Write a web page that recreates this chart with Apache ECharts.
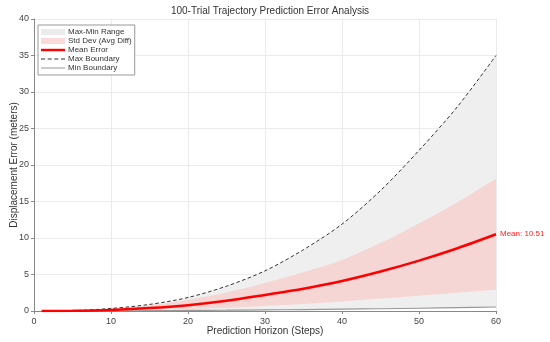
<!DOCTYPE html>
<html>
<head>
<meta charset="utf-8">
<script src="https://cdn.jsdelivr.net/npm/echarts@6/dist/echarts.min.js"></script>
<style>html,body{margin:0;padding:0;background:#fff;}#c{width:550px;height:342px;}</style>
</head>
<body>
<div id="c"></div>
<script>
var steps     = [1, 5, 10, 15, 20, 25, 30, 35, 40, 45, 50, 55, 60];
var meanErr   = [0.0, 0.03, 0.15, 0.4, 0.8, 1.4, 2.2, 3.05, 4.1, 5.4, 6.9, 8.6, 10.51];
var stdUpper  = [0.0, 0.06, 0.3, 0.8, 1.55, 2.55, 3.85, 5.3, 7.0, 9.3, 12.0, 14.9, 18.1];
var stdLower  = [0.0, 0.01, 0.05, 0.12, 0.3, 0.45, 0.7, 0.95, 1.3, 1.7, 2.1, 2.5, 2.9];
var maxBound  = [0.0, 0.05, 0.35, 0.9, 1.85, 3.4, 5.5, 8.4, 11.9, 16.5, 22.0, 28.0, 35.0];
var minBound  = [0.0, 0.0, 0.02, 0.05, 0.08, 0.11, 0.15, 0.2, 0.25, 0.31, 0.38, 0.46, 0.55];
var xTicks = [0, 10, 20, 30, 40, 50, 60];
var yTicks = [0, 5, 10, 15, 20, 25, 30, 35, 40];

function pairs(arr) { return steps.map(function (s, i) { return [s, arr[i]]; }); }

var chart = echarts.init(document.getElementById('c'), null, {renderer: 'canvas'});
var font = 'Liberation Sans, Arial, sans-serif';
var smoothV = 0.3;
var gray = '#efefef', pink = '#f6d5d5';
var lineIcon = 'path://M0,0 H24 V2.4 H0 Z';
var thinIcon = 'path://M0,0 H24 V1 H0 Z';
var dashIcon = 'path://M0,0 H4 V1 H0 Z M6.5,0 H10.5 V1 H6.5 Z M13,0 H17 V1 H13 Z M19.5,0 H23.5 V1 H19.5 Z';

chart.setOption({
  animation: false,
  backgroundColor: '#ffffff',
  title: {
    text: '100-Trial Trajectory Prediction Error Analysis',
    left: 265, top: 1, textAlign: 'center',
    textStyle: {fontSize: 10, fontWeight: 'normal', color: '#333', fontFamily: font}
  },
  grid: {left: 34, right: 54, top: 19, bottom: 31, outerBoundsMode: 'none', containLabel: false},
  legend: {
    left: 38, top: 25, orient: 'vertical',
    itemWidth: 24, itemHeight: 6, itemGap: 1,
    padding: [3, 3, 3, 3],
    borderColor: '#999', borderWidth: 1, backgroundColor: '#fff',
    textStyle: {fontSize: 8, lineHeight: 8, color: '#333', fontFamily: font, padding: [0, 0, 0, -2]},
    data: [
      {name: 'Max-Min Range', icon: 'rect'},
      {name: 'Std Dev (Avg Diff)', icon: 'rect'},
      {name: 'Mean Error', icon: lineIcon},
      {name: 'Max Boundary', icon: dashIcon},
      {name: 'Min Boundary', icon: thinIcon}
    ]
  },
  xAxis: {
    type: 'value', min: 0, max: 60, interval: 10,
    name: 'Prediction Horizon (Steps)', nameLocation: 'middle', nameGap: 15, nameMoveOverlap: false,
    nameTextStyle: {fontSize: 10, color: '#333', fontFamily: font},
    axisLine: {show: true, onZero: false, lineStyle: {color: '#888', width: 1}},
    axisTick: {show: true, length: 3, lineStyle: {color: '#888'}},
    axisLabel: {fontSize: 9, color: '#444', margin: 6, fontFamily: font},
    splitLine: {show: true, lineStyle: {color: '#ebebeb', width: 1}}
  },
  yAxis: {
    type: 'value', min: 0, max: 40, interval: 5,
    name: 'Displacement Error (meters)', nameLocation: 'middle', nameGap: 15, nameMoveOverlap: false,
    nameTextStyle: {fontSize: 10, color: '#333', fontFamily: font},
    axisLine: {show: true, onZero: false, lineStyle: {color: '#888', width: 1}},
    axisTick: {show: true, length: 3, lineStyle: {color: '#888'}},
    axisLabel: {fontSize: 9, color: '#444', margin: 5, fontFamily: font},
    splitLine: {show: true, lineStyle: {color: '#ebebeb', width: 1}}
  },
  series: [
    {name: 'Max-Min Range', type: 'line', data: pairs(maxBound), symbol: 'none', smooth: smoothV,
     lineStyle: {width: 0, opacity: 0}, itemStyle: {color: '#ebebeb'},
     areaStyle: {color: gray, opacity: 1, origin: 'start'}, z: 1},
    {name: 'Std Dev (Avg Diff)', type: 'line', data: pairs(stdUpper), symbol: 'none', smooth: smoothV,
     lineStyle: {width: 0, opacity: 0}, itemStyle: {color: '#fbdada'},
     areaStyle: {color: pink, opacity: 1, origin: 'start'}, z: 2},
    {name: '_stdLowerFill', type: 'line', data: pairs(stdLower), symbol: 'none', smooth: smoothV,
     lineStyle: {width: 0, opacity: 0}, itemStyle: {color: gray},
     areaStyle: {color: gray, opacity: 1, origin: 'start'}, z: 3, silent: true},
    {name: '_minFill', type: 'line', data: pairs(minBound), symbol: 'none', smooth: smoothV,
     lineStyle: {width: 0, opacity: 0}, itemStyle: {color: '#fff'},
     areaStyle: {color: '#fff', opacity: 1, origin: 'start'}, z: 3, silent: true},
    {name: 'Max Boundary', type: 'line', data: pairs(maxBound), symbol: 'none', smooth: smoothV,
     itemStyle: {color: '#333'}, lineStyle: {color: '#333', width: 1, type: [3.5, 2.5]}, z: 5},
    {name: 'Min Boundary', type: 'line', data: pairs(minBound), symbol: 'none', smooth: smoothV,
     itemStyle: {color: '#999'}, lineStyle: {color: '#999', width: 1.2}, z: 5},
    {name: 'Mean Error', type: 'line', data: pairs(meanErr), symbol: 'none', smooth: smoothV,
     itemStyle: {color: '#ff0000'}, lineStyle: {color: '#ff0000', width: 2.5}, z: 6,
     endLabel: {show: true, distance: 4, color: '#ff2020', fontSize: 8, fontFamily: font,
       formatter: function () { return 'Mean: ' + meanErr[meanErr.length - 1].toFixed(2); }}}
  ]
});
</script>
</body>
</html>
